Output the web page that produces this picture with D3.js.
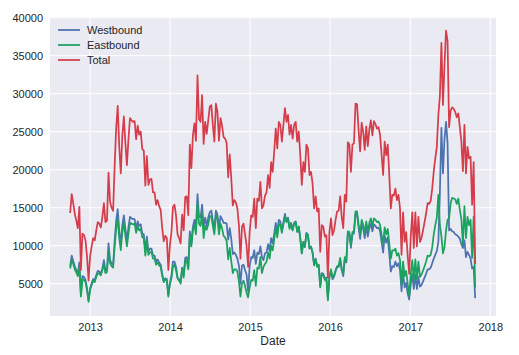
<!DOCTYPE html>
<html><head><meta charset="utf-8">
<script src="https://cdn.jsdelivr.net/npm/d3@7"></script>
<style>
html,body{margin:0;padding:0;background:#fff;}
text{font-family:"Liberation Sans",Arial,sans-serif;fill:#262626;}
</style></head>
<body><svg id="chart" width="519" height="355"></svg>
<script>
// weekly counts, first week starting 2012-10-02
const startDate = "2012-10-02";
const total = [14300,16800,15600,14200,13300,12300,15100,6800,11600,11400,10700,8500,5400,8600,9900,11000,10700,12000,13100,12900,
12400,13800,15600,13100,13300,19600,15800,15000,14600,20500,25500,28400,23000,19500,24500,27000,23500,20600,24000,26800,
26500,26300,26400,24000,25800,24600,25000,22700,22500,17900,21800,18000,18700,18800,17000,17000,15400,16000,15200,14700,
12300,10600,11300,11000,6800,10000,11800,15100,15400,14000,11500,11000,10300,14100,12000,16400,16500,14000,23300,20200,
24500,26100,23800,32400,26700,26300,29800,23400,26300,24700,26500,28300,28500,25900,23700,28700,27600,23800,26800,25800,
24300,24100,23500,19000,22000,18900,15300,16000,15700,14900,12700,8300,12500,12900,11500,10000,7200,11800,14000,13800,
16200,12300,16200,15900,18400,14900,15300,16600,17000,19300,17600,21000,19700,22400,25400,22800,26300,25900,23700,25900,
28100,26300,27200,24600,25900,24100,25900,26300,23700,25000,21900,18000,21000,19700,23300,22800,19300,19700,18200,14900,
16500,14500,14900,9200,12700,12500,11200,11400,5800,11800,13600,11400,12000,13400,14500,14600,16500,13800,12300,16700,
15800,23600,23300,19700,23300,23500,28700,28600,25200,22400,26200,25000,22600,25700,23100,25300,26500,24500,26400,26000,
25400,25600,24600,22000,19300,23700,21900,23300,19300,14900,16700,16600,17500,16000,16700,14900,8800,14400,10500,11800,
8700,6300,11200,14400,9700,14400,9900,13800,10500,11000,12000,13100,14200,15600,15500,15900,17500,19800,21500,23000,
27200,29700,36700,28500,33800,38300,36900,25600,27800,28200,28000,27600,26900,27400,25600,23700,19800,25900,19500,23000,
21500,21700,15400,21000,7600];
const westbound = [7300,8700,8000,7300,6800,6300,7800,3500,6000,5900,5500,4400,2800,4400,5100,5600,5500,6100,6700,6600,
6300,7000,8100,6700,6800,10300,8100,7700,7500,10600,13300,14800,12000,10100,12700,14000,12200,10700,12400,13800,
13600,13500,13500,12300,13200,12600,12800,11600,11500,9200,11200,9200,9600,9600,8700,8700,7900,8200,7800,7500,
6300,5400,5700,5600,3500,5100,6100,7900,7900,7200,5800,5600,5300,7100,6200,8400,8500,7100,11900,10300,
12500,13400,12300,16800,13800,13700,15400,12400,13700,12600,13700,14400,14600,13300,12200,14600,14100,12300,13900,13500,
13000,13000,12900,10800,12300,10900,8900,9100,8800,8300,7400,5000,7400,7500,6800,6200,4000,7300,8500,8400,
9400,7600,9100,8900,9900,8500,8100,9000,9100,10200,9300,11000,10300,11600,13000,11700,13400,13200,12000,13100,
14200,13200,13700,12400,13000,12100,13000,13200,11900,12500,11000,9000,10500,9900,11700,11400,9700,9900,9100,7500,
8300,7300,7500,4700,6400,6300,5700,5800,3000,5900,6700,5600,5900,6600,7200,7200,8100,6800,6000,8200,
7800,11700,11500,9700,11500,11600,14200,14100,12400,10900,12800,12200,11000,12500,11200,12300,12900,11900,12800,12600,
12300,12400,11900,10500,9100,11300,10400,11100,9000,6600,7300,7200,7900,7300,7700,6800,4000,6500,4500,5100,
3700,2900,4900,6300,4300,6200,4300,5900,4600,4800,5300,5800,6300,6900,6900,7100,7700,8300,8800,9300,
10500,17000,25500,19500,24000,26300,23500,12000,12200,11900,11800,11500,11400,11200,10900,10200,9700,10700,8500,9200,
8800,8300,7000,7200,3100];
const eastbound = [7000,8100,7600,6900,6500,6000,7300,3300,5600,5500,5200,4100,2600,4200,4800,5400,5200,5900,6400,6300,
6100,6800,7500,6400,6500,9300,7700,7300,7100,9900,12200,13600,11000,9400,11800,13000,11300,9900,11600,13000,
12900,12800,12900,11700,12600,12000,12200,11100,11000,8700,10600,8800,9100,9200,8300,8300,7500,7800,7400,7200,
6000,5200,5600,5400,3300,4900,5700,7200,7500,6800,5700,5400,5000,7000,5800,8000,8000,6900,11400,9900,
12000,12700,11500,15600,12900,12600,14400,11000,12600,12100,12800,13900,13900,12600,11500,14100,13500,11500,12900,12300,
11300,11100,10600,8200,9700,8000,6400,6900,6900,6600,5300,3300,5100,5400,4700,3800,3200,4500,5500,5400,
6800,4700,7100,7000,8500,6400,7200,7600,7900,9100,8300,10000,9400,10800,12400,11100,12900,12700,11700,12800,
13900,13100,13500,12200,12900,12000,12900,13100,11800,12500,10900,9000,10500,9800,11600,11400,9600,9800,9100,7400,
8200,7200,7400,4500,6300,6200,5500,5600,2800,5900,6900,5800,6100,6800,7300,7400,8400,7000,6300,8500,
8000,11900,11800,10000,11800,11900,14500,14500,12800,11500,13400,12800,11600,13200,11900,13000,13600,12600,13600,13400,
13100,13200,12700,11500,10200,12400,11500,12200,10300,8300,9400,9400,9600,8700,9000,8100,4800,7900,6000,6700,
5000,3400,6300,8100,5400,8200,5600,7900,5900,6200,6700,7300,7900,8700,8600,8800,9800,11500,12700,13700,
16700,12700,11200,9000,9800,12000,13400,13600,15600,16300,16200,16100,15500,16200,14700,13500,10100,15200,11000,13800,
12700,13400,8400,13800,4500];
const seriesNames = ["Westbound","Eastbound","Total"];
const seriesColors = ["#4C72B0","#1BA25E","#D63D4B"];
const yTicks = [5000,10000,15000,20000,25000,30000,35000,40000];
const xTickYears = [2013,2014,2015,2016,2017,2018];
const xLabel = "Date";

const parse = d3.utcParse("%Y-%m-%d");
const t0 = parse(startDate);
const dates = total.map((_, i) => d3.utcDay.offset(t0, 7 * i));
const series = [westbound, eastbound, total];

const W = 519, H = 355;
const m = {left: 50, right: 23, top: 17, bottom: 39};
const iw = W - m.left - m.right, ih = H - m.top - m.bottom;

const x = d3.scaleUtc().domain([parse("2012-07-02"), parse("2018-01-27")]).range([0, iw]);
const y = d3.scaleLinear().domain([750, 40090]).range([ih, 0]);

const svg = d3.select("#chart");
svg.append("rect").attr("width", W).attr("height", H).attr("fill", "#fff");
const g = svg.append("g").attr("transform", `translate(${m.left},${m.top})`);
g.append("rect").attr("width", iw).attr("height", ih).attr("fill", "#EAEAF2");

const xTicks = xTickYears.map(yr => d3.utcParse("%Y")(String(yr)));

// grid
g.append("g").selectAll("line").data(yTicks).join("line")
  .attr("x1", 0).attr("x2", iw).attr("y1", d => y(d)).attr("y2", d => y(d))
  .attr("stroke", "#fff").attr("stroke-width", 1);
g.append("g").selectAll("line").data(xTicks).join("line")
  .attr("y1", 0).attr("y2", ih).attr("x1", d => x(d)).attr("x2", d => x(d))
  .attr("stroke", "#fff").attr("stroke-width", 1);

// axes
const ya = g.append("g").call(d3.axisLeft(y).tickValues(yTicks).tickSize(0).tickPadding(7).tickFormat(d3.format("d")));
const xa = g.append("g").attr("transform", `translate(0,${ih})`)
  .call(d3.axisBottom(x).tickValues(xTicks).tickSize(0).tickPadding(7).tickFormat(d3.utcFormat("%Y")));
[ya, xa].forEach(a => {
  a.select(".domain").remove();
  a.selectAll("text").attr("font-size", 11).attr("font-family", "Liberation Sans, Arial, sans-serif").attr("fill", "#262626");
});

svg.append("text").attr("x", m.left + iw / 2).attr("y", 345).attr("text-anchor", "middle")
  .attr("font-size", 12).text(xLabel);

// lines
const line = d3.line().x((d, i) => x(dates[i])).y(d => y(d));
series.forEach((s, k) => {
  g.append("path").datum(s).attr("d", line).attr("fill", "none")
    .attr("stroke", seriesColors[k]).attr("stroke-width", 1.75)
    .attr("stroke-linejoin", "round");
});

// legend
const lg = svg.append("g");
seriesNames.forEach((n, k) => {
  const yy = 30 + k * 15;
  lg.append("line").attr("x1", 58).attr("x2", 80).attr("y1", yy).attr("y2", yy)
    .attr("stroke", seriesColors[k]).attr("stroke-width", 1.75);
  lg.append("text").attr("x", 87).attr("y", yy).attr("dy", "0.35em").attr("font-size", 11).text(n);
});
</script></body></html>
